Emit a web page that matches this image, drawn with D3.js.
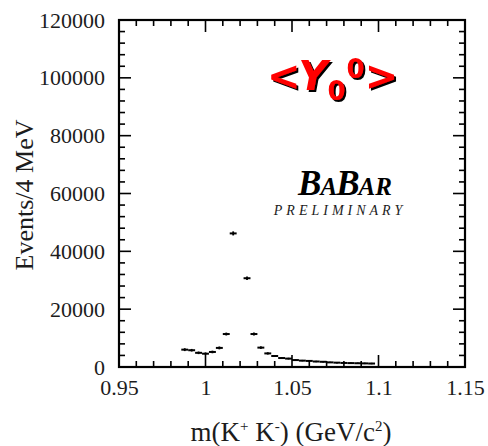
<!DOCTYPE html>
<html>
<head>
<meta charset="utf-8">
<script src="https://cdn.jsdelivr.net/npm/d3@7/dist/d3.min.js"></script>
<style>
  html, body { margin: 0; padding: 0; background: #fff; }
  svg { display: block; }
  text { fill: #1c1c1c; }
</style>
</head>
<body>
<svg id="chart" width="488" height="446"></svg>
<script>
// K+K- invariant mass, <Y0^0> moment, events per 4 MeV bin
const binCenters = [0.988, 0.992, 0.996, 1.000, 1.004, 1.008, 1.012, 1.016, 1.020, 1.024,
                    1.028, 1.032, 1.036, 1.040, 1.044, 1.048, 1.052, 1.056, 1.060, 1.064,
                    1.068, 1.072, 1.076, 1.080, 1.084, 1.088, 1.092, 1.096];
const events     = [6000, 5800, 4900, 4600, 5200, 6600, 11400, 46200, 170000, 30700,
                    11400, 6700, 4700, 3800, 3100, 2900, 2400, 2200, 2100, 1900,
                    1800, 1600, 1500, 1400, 1350, 1300, 1250, 1200];
const errors     = [500, 450, 450, 450, 450, 500, 500, 700, 900, 600,
                    500, 450, 400, 350, 300, 300, 250, 250, 250, 250,
                    250, 250, 250, 250, 250, 250, 250, 250];
const binWidth = 0.004;

const xTickValues = [0.95, 1.0, 1.05, 1.1, 1.15];
const xTickLabels = ["0.95", "1", "1.05", "1.1", "1.15"];
const yTickValues = [0, 20000, 40000, 60000, 80000, 100000, 120000];
const yTickLabels = ["0", "20000", "40000", "60000", "80000", "100000", "120000"];

const svg = d3.select("#chart");
const frame = { left: 119, right: 465, top: 20, bottom: 367 };

const x = d3.scaleLinear().domain([0.95, 1.15]).range([frame.left, frame.right]);
const y = d3.scaleLinear().domain([0, 120000]).range([frame.bottom, frame.top]);

const serif = "'Liberation Serif', 'Times New Roman', serif";

const defs = svg.append("defs");
// clip data to the frame
defs.append("clipPath").attr("id", "plotClip")
  .append("rect")
  .attr("x", frame.left).attr("y", frame.top)
  .attr("width", frame.right - frame.left).attr("height", frame.bottom - frame.top);

// dark drop shadow for the moment label
const shadow = defs.append("filter").attr("id", "shadow")
  .attr("x", "-10%").attr("y", "-10%").attr("width", "130%").attr("height", "130%");
shadow.append("feOffset").attr("in", "SourceAlpha").attr("dx", 2).attr("dy", 2).attr("result", "off");
shadow.append("feFlood").attr("flood-color", "#000").attr("result", "col");
shadow.append("feComposite").attr("in", "col").attr("in2", "off").attr("operator", "in").attr("result", "sh");
const merge = shadow.append("feMerge");
merge.append("feMergeNode").attr("in", "sh");
merge.append("feMergeNode").attr("in", "SourceGraphic");

// minor / major ticks on all four sides, pointing inward
const xMinor = d3.range(0, 21).map(i => 0.95 + i * 0.01);
const yMinor = d3.range(0, 31).map(i => i * 4000);
const isMajorX = v => xTickValues.some(t => Math.abs(t - v) < 1e-9);
const isMajorY = v => yTickValues.some(t => Math.abs(t - v) < 1e-9);
const majorLen = 12, minorLen = 6;

const ticks = svg.append("g").attr("stroke", "#000").attr("stroke-width", 1.6);
xMinor.forEach(v => {
  const L = isMajorX(v) ? majorLen : minorLen;
  const px = x(v);
  ticks.append("line").attr("x1", px).attr("x2", px)
    .attr("y1", frame.bottom).attr("y2", frame.bottom - L);
  ticks.append("line").attr("x1", px).attr("x2", px)
    .attr("y1", frame.top).attr("y2", frame.top + L);
});
yMinor.forEach(v => {
  const L = isMajorY(v) ? majorLen : minorLen;
  const py = y(v);
  ticks.append("line").attr("y1", py).attr("y2", py)
    .attr("x1", frame.left).attr("x2", frame.left + L);
  ticks.append("line").attr("y1", py).attr("y2", py)
    .attr("x1", frame.right).attr("x2", frame.right - L);
});

// frame
svg.append("rect")
  .attr("x", frame.left).attr("y", frame.top)
  .attr("width", frame.right - frame.left).attr("height", frame.bottom - frame.top)
  .attr("fill", "none").attr("stroke", "#000").attr("stroke-width", 2.2);

// tick labels via axis generators (lines hidden, text kept)
const xAxis = d3.axisBottom(x).tickValues(xTickValues)
  .tickFormat((d, i) => xTickLabels[i]).tickSize(0).tickPadding(12);
const gx = svg.append("g").attr("transform", `translate(0,${frame.bottom})`).call(xAxis);
gx.select(".domain").remove();
gx.selectAll("text").attr("font-family", serif).attr("font-size", 22).attr("fill", "#1c1c1c");

const yAxis = d3.axisLeft(y).tickValues(yTickValues)
  .tickFormat((d, i) => yTickLabels[i]).tickSize(0).tickPadding(14);
const gy = svg.append("g").attr("transform", `translate(${frame.left},0)`).call(yAxis);
gy.select(".domain").remove();
gy.selectAll("text").attr("font-family", serif).attr("font-size", 22).attr("fill", "#1c1c1c");

// data points: horizontal bar across the bin, vertical error bar
const pts = svg.append("g").attr("clip-path", "url(#plotClip)")
  .attr("stroke", "#000").attr("fill", "none");
const data = binCenters.map((c, i) => ({ c, v: events[i], e: errors[i] }));
pts.selectAll("line.bin").data(data).join("line").attr("class", "bin")
  .attr("x1", d => x(d.c - binWidth / 2)).attr("x2", d => x(d.c + binWidth / 2))
  .attr("y1", d => y(d.v)).attr("y2", d => y(d.v))
  .attr("stroke-width", 2);
pts.selectAll("line.err").data(data).join("line").attr("class", "err")
  .attr("x1", d => x(d.c)).attr("x2", d => x(d.c))
  .attr("y1", d => y(d.v - d.e)).attr("y2", d => y(d.v + d.e))
  .attr("stroke-width", 1.8);

// axis titles
svg.append("text")
  .attr("x", 291).attr("y", 441)
  .attr("text-anchor", "middle")
  .attr("font-family", serif).attr("font-size", 27)
  .call(t => {
    t.append("tspan").text("m(K");
    t.append("tspan").attr("font-size", 15).attr("dy", -10).text("+");
    t.append("tspan").attr("dy", 10).text(" K");
    t.append("tspan").attr("font-size", 15).attr("dy", -10).text("-");
    t.append("tspan").attr("dy", 10).text(") (GeV/c");
    t.append("tspan").attr("font-size", 15).attr("dy", -10).text("2");
    t.append("tspan").attr("dy", 10).text(")");
  });

svg.append("text")
  .attr("transform", "translate(33,195) rotate(-90)")
  .attr("text-anchor", "middle")
  .attr("font-family", serif).attr("font-size", 26)
  .text("Events/4 MeV");

// <Y0^0> moment label, red with dark drop shadow
const mt = svg.append("text")
  .attr("x", 267).attr("y", 90)
  .attr("font-family", "'DejaVu Sans', Verdana, sans-serif")
  .attr("font-weight", "bold").attr("font-size", 40)
  .attr("filter", "url(#shadow)")
  .style("fill", "#ff0000");
mt.append("tspan").text("<");
mt.append("tspan").attr("font-style", "italic").attr("dx", -2).text("Y");
mt.append("tspan").attr("font-size", 26).attr("dy", 10).attr("dx", 0).text("0");
mt.append("tspan").attr("font-size", 26).attr("dy", -22).attr("dx", 1).text("0");
mt.append("tspan").attr("dy", 12).attr("dx", 0).text(">");

// BaBar logo
const logo = svg.append("text")
  .attr("x", 345).attr("y", 195)
  .attr("text-anchor", "middle")
  .attr("font-family", serif).attr("font-style", "italic").attr("font-weight", "bold")
  .style("fill", "#000");
logo.append("tspan").attr("font-size", 35).text("B");
logo.append("tspan").attr("font-size", 25).attr("dx", -1).text("A");
logo.append("tspan").attr("font-size", 35).attr("dx", -1).text("B");
logo.append("tspan").attr("font-size", 25).attr("dx", -1).text("AR");

svg.append("text")
  .attr("x", 340).attr("y", 215)
  .attr("text-anchor", "middle")
  .attr("font-family", serif).attr("font-style", "italic")
  .attr("font-size", 14).attr("letter-spacing", 4)
  .text("PRELIMINARY");
</script>
</body>
</html>
